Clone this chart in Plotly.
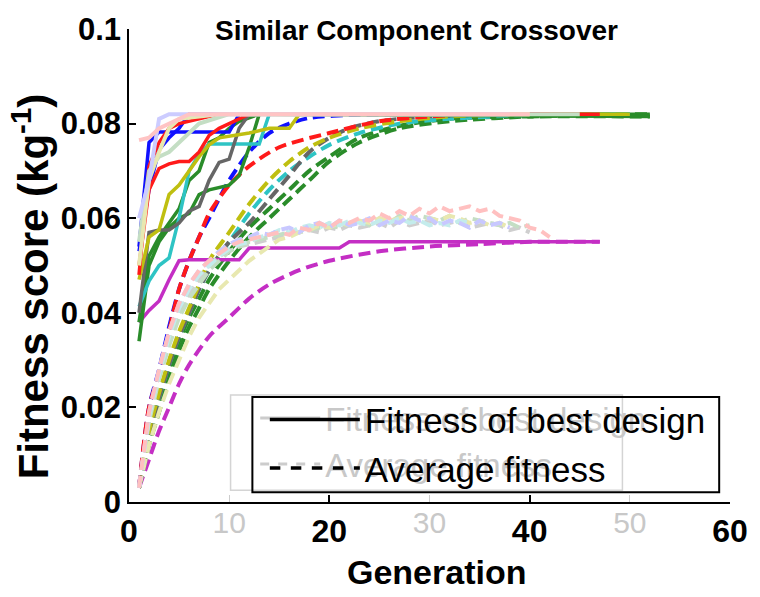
import plotly.graph_objects as go

# ---------------------------------------------------------------
# Best-so-far fitness (kg^-1) per run: generation -> fitness
# ---------------------------------------------------------------
best_blue_a_gen = [1, 2, 3, 10, 11, 41]
best_blue_a = [0.054, 0.076, 0.0782, 0.0782, 0.082, 0.082]
best_blue_b_gen = [1, 2, 3, 4, 5, 6, 40]
best_blue_b = [0.053, 0.066, 0.0745, 0.077, 0.079, 0.082, 0.082]
best_red_a_gen = [1, 2, 3, 4, 5, 6, 7, 8, 9, 10, 11, 12, 42]
best_red_a = [0.050, 0.066, 0.0705, 0.0715, 0.072, 0.072, 0.074, 0.0775, 0.079, 0.080, 0.081, 0.082, 0.082]
best_red_b_gen = [1, 2, 3, 4, 5, 6, 7, 8, 9, 47]
best_red_b = [0.048, 0.071, 0.076, 0.079, 0.080, 0.0805, 0.081, 0.0815, 0.082, 0.082]
best_gray_gen = [1, 2, 3, 4, 5, 6, 7, 8, 9, 10, 11, 12, 45]
best_gray = [0.040, 0.057, 0.0575, 0.0575, 0.059, 0.0615, 0.0625, 0.068, 0.0718, 0.0725, 0.079, 0.082, 0.082]
best_yellow_gen = [1, 2, 3, 4, 5, 6, 7, 8, 9, 12, 14, 16, 17, 50]
best_yellow = [0.047, 0.056, 0.0575, 0.065, 0.067, 0.070, 0.073, 0.0755, 0.077, 0.078, 0.079, 0.079, 0.082, 0.082]
best_cyan_gen = [1, 2, 3, 4, 5, 6, 7, 8, 13, 14, 50]
best_cyan = [0.0413, 0.0467, 0.050, 0.0516, 0.060, 0.070, 0.0735, 0.0757, 0.0757, 0.082, 0.082]
best_green_a_gen = [1, 2, 3, 4, 5, 6, 7, 8, 10, 11, 12, 13, 52]
best_green_a = [0.034, 0.050, 0.055, 0.058, 0.060, 0.061, 0.065, 0.066, 0.067, 0.069, 0.075, 0.082, 0.082]
best_green_b_gen = [1, 2, 3, 4, 5, 6, 7, 8, 9, 10, 11, 13, 52]
best_green_b = [0.038, 0.052, 0.056, 0.059, 0.062, 0.068, 0.070, 0.076, 0.077, 0.079, 0.0805, 0.082, 0.0815]
best_magenta_gen = [1, 2, 3, 4, 5, 6, 11, 12, 21, 22, 47]
best_magenta = [0.038, 0.0405, 0.0425, 0.047, 0.051, 0.0512, 0.0512, 0.0537, 0.0537, 0.055, 0.055]

# ---------------------------------------------------------------
# Population-average fitness (kg^-1) per run
# ---------------------------------------------------------------
avg_red_gen = [1, 2, 3, 4, 5, 6, 7, 8, 10, 12, 15, 20, 25, 30, 35, 42]
avg_red = [0.003, 0.020, 0.027, 0.036, 0.045, 0.051, 0.056, 0.061, 0.067, 0.071, 0.075, 0.078, 0.0805, 0.0815, 0.082, 0.082]
avg_blue_gen = [1, 2, 3, 4, 5, 6, 7, 8, 10, 12, 14, 16, 18, 22, 30, 41]
avg_blue = [0.003, 0.020, 0.028, 0.037, 0.045, 0.051, 0.056, 0.060, 0.068, 0.074, 0.078, 0.080, 0.0812, 0.0818, 0.082, 0.082]
avg_yellow_gen = [1, 2, 3, 4, 5, 6, 7, 8, 10, 12, 14, 16, 18, 20, 23, 27, 32, 40, 50]
avg_yellow = [0.003, 0.015, 0.023, 0.030, 0.036, 0.041, 0.046, 0.051, 0.057, 0.063, 0.068, 0.072, 0.075, 0.077, 0.079, 0.0805, 0.0815, 0.082, 0.082]
avg_cyan_gen = [1, 2, 3, 4, 5, 6, 7, 8, 10, 12, 14, 16, 18, 20, 23, 27, 32, 40, 50]
avg_cyan = [0.003, 0.014, 0.022, 0.029, 0.035, 0.040, 0.045, 0.049, 0.055, 0.061, 0.066, 0.070, 0.073, 0.0755, 0.078, 0.080, 0.081, 0.0818, 0.082]
avg_gray_gen = [1, 2, 3, 4, 5, 6, 7, 8, 10, 12, 14, 16, 18, 20, 22, 25, 30, 40, 45]
avg_gray = [0.003, 0.014, 0.022, 0.029, 0.035, 0.040, 0.045, 0.049, 0.055, 0.059, 0.064, 0.069, 0.074, 0.077, 0.079, 0.0805, 0.0815, 0.082, 0.082]
avg_green_a_gen = [1, 2, 3, 4, 5, 6, 7, 8, 10, 12, 14, 16, 18, 20, 23, 27, 32, 40, 52]
avg_green_a = [0.003, 0.012, 0.019, 0.026, 0.032, 0.037, 0.041, 0.045, 0.051, 0.056, 0.060, 0.064, 0.068, 0.072, 0.076, 0.079, 0.0805, 0.0815, 0.082]
avg_green_b_gen = [1, 2, 3, 4, 5, 6, 7, 8, 10, 12, 14, 16, 18, 20, 23, 27, 32, 40, 52]
avg_green_b = [0.003, 0.013, 0.021, 0.028, 0.034, 0.039, 0.043, 0.047, 0.053, 0.058, 0.062, 0.066, 0.070, 0.073, 0.077, 0.0795, 0.081, 0.0815, 0.0815]
avg_magenta_gen = [1, 2, 3, 4, 5, 6, 8, 10, 12, 14, 17, 20, 25, 30, 35, 40, 47]
avg_magenta = [0.003, 0.009, 0.015, 0.020, 0.025, 0.029, 0.035, 0.039, 0.043, 0.046, 0.049, 0.051, 0.053, 0.054, 0.0545, 0.055, 0.055]

# ---------------------------------------------------------------
# Faded comparison runs (average fitness, one value per generation)
# ---------------------------------------------------------------
faded_pink_avg = [0.003, 0.019, 0.028, 0.036, 0.042, 0.046, 0.049, 0.051, 0.0525, 0.054,
                  0.055, 0.0555, 0.056, 0.0565, 0.057, 0.0565, 0.058, 0.0575, 0.059, 0.058,
                  0.0595, 0.059, 0.060, 0.0595, 0.061, 0.060, 0.0615, 0.0605, 0.062, 0.061,
                  0.0625, 0.0615, 0.062, 0.0625, 0.0615, 0.062, 0.0605, 0.060, 0.0595, 0.058,
                  0.0575, 0.056]
faded_blue_avg = [0.003, 0.019, 0.028, 0.036, 0.042, 0.046, 0.049, 0.051, 0.053, 0.0545,
                  0.0555, 0.056, 0.057, 0.0565, 0.0575, 0.058, 0.057, 0.0585, 0.059, 0.058,
                  0.0595, 0.0585, 0.059, 0.060, 0.0585, 0.0595, 0.059, 0.0605, 0.0595, 0.060,
                  0.0585, 0.0595, 0.059, 0.058, 0.0595, 0.0585, 0.059, 0.058]
faded_green_avg = [0.003, 0.017, 0.026, 0.033, 0.039, 0.043, 0.046, 0.049, 0.051, 0.053,
                   0.054, 0.055, 0.0555, 0.056, 0.0565, 0.057, 0.057, 0.0575, 0.058, 0.0585,
                   0.058, 0.059, 0.0595, 0.0585, 0.060, 0.059, 0.0605, 0.0595, 0.0605, 0.060,
                   0.0595, 0.0605, 0.059, 0.060, 0.0595, 0.059, 0.0585, 0.059, 0.058, 0.0585]
faded_yellow_avg = [0.003, 0.012, 0.019, 0.025, 0.030, 0.035, 0.039, 0.042, 0.045, 0.047,
                    0.049, 0.051, 0.0525, 0.054, 0.0555, 0.056, 0.057, 0.0575, 0.0585, 0.058,
                    0.059, 0.0585, 0.0595, 0.059, 0.060, 0.0595, 0.060, 0.0605, 0.0595, 0.060,
                    0.0595, 0.0605, 0.060, 0.059, 0.0595, 0.0585, 0.059, 0.058]
faded_gray_avg = [0.003, 0.018, 0.027, 0.034, 0.040, 0.044, 0.047, 0.050, 0.052, 0.053,
                  0.054, 0.0545, 0.055, 0.0555, 0.056, 0.0565, 0.057, 0.0575, 0.057, 0.058,
                  0.0575, 0.0585, 0.058, 0.0585, 0.059, 0.058, 0.0595, 0.0585, 0.059, 0.0595,
                  0.0585, 0.059, 0.0595, 0.058, 0.0585, 0.059, 0.0585, 0.0575, 0.058, 0.057]
faded_cyan_avg = [0.003, 0.018, 0.027, 0.035, 0.041, 0.045, 0.048, 0.050, 0.052, 0.0535,
                  0.0545, 0.055, 0.056, 0.0565, 0.0575, 0.057, 0.058, 0.0585, 0.058, 0.059,
                  0.0585, 0.0595, 0.059, 0.0585, 0.0595, 0.059, 0.060, 0.059, 0.0595, 0.0585,
                  0.059, 0.0585, 0.0595, 0.059]

# Faded comparison runs (best fitness)
faded_pink_best_gen = [1, 2, 3, 4, 5, 6, 40]
faded_pink_best = [0.0765, 0.077, 0.079, 0.080, 0.081, 0.082, 0.082]
faded_lavender_best_gen = [1, 2, 3, 4, 38]
faded_lavender_best = [0.060, 0.068, 0.081, 0.082, 0.082]
faded_green_best_gen = [1, 2, 3, 4, 5, 6, 7, 10, 45]
faded_green_best = [0.055, 0.070, 0.073, 0.074, 0.076, 0.078, 0.080, 0.082, 0.082]
faded_yellow_best_gen = [1, 2, 3, 4, 5, 9, 40]
faded_yellow_best = [0.050, 0.068, 0.074, 0.079, 0.081, 0.082, 0.082]

x_ticks_main = [0, 20, 40, 60]
x_ticks_faded = [10, 30, 50]
y_ticks = [0, 0.02, 0.04, 0.06, 0.08, 0.1]
y_tick_text = ["0", "0.02", "0.04", "0.06", "0.08", "0.1"]

FONT = "Liberation Sans, Arial, sans-serif"
BLUE, RED, GRAY = "#1010ff", "#ff1a1a", "#666666"
YELLOW, CYAN, GREEN, MAGENTA = "#bfbf10", "#2ec4c4", "#2a8c2a", "#c42ec4"
DASH = "12px,6px"

fig = go.Figure()


def gens(values):
    return list(range(1, len(values) + 1))


# faded runs sit behind everything else, on their own overlaid x-axis
for vals, col in [(faded_gray_avg, "#cfcfcf"), (faded_green_avg, "#c4dec4"),
                  (faded_yellow_avg, "#e8e8b0"), (faded_cyan_avg, "#c4ecec"),
                  (faded_blue_avg, "#c8c8ff"), (faded_pink_avg, "#ffc0c0")]:
    fig.add_trace(go.Scatter(x=gens(vals), y=vals, mode="lines", xaxis="x2",
                             line=dict(color=col, width=4, dash=DASH),
                             showlegend=False, hoverinfo="skip"))
for gx, gy, col in [(faded_green_best_gen, faded_green_best, "#c4dec4"),
                    (faded_yellow_best_gen, faded_yellow_best, "#e8e8b0"),
                    (faded_lavender_best_gen, faded_lavender_best, "#ccccff"),
                    (faded_pink_best_gen, faded_pink_best, "#ffc4c4")]:
    fig.add_trace(go.Scatter(x=gx, y=gy, mode="lines", xaxis="x2",
                             line=dict(color=col, width=4),
                             showlegend=False, hoverinfo="skip"))

# average fitness, dashed
for gx, gy, col in [(avg_magenta_gen, avg_magenta, MAGENTA),
                    (avg_green_a_gen, avg_green_a, GREEN),
                    (avg_green_b_gen, avg_green_b, GREEN),
                    (avg_cyan_gen, avg_cyan, CYAN),
                    (avg_gray_gen, avg_gray, GRAY),
                    (avg_yellow_gen, avg_yellow, YELLOW),
                    (avg_blue_gen, avg_blue, BLUE),
                    (avg_red_gen, avg_red, RED)]:
    fig.add_trace(go.Scatter(x=gx, y=gy, mode="lines",
                             line=dict(color=col, width=4, dash=DASH,
                                       shape="spline", smoothing=0.8),
                             showlegend=False, hoverinfo="skip"))

# best design fitness, solid
for gx, gy, col in [(best_magenta_gen, best_magenta, MAGENTA),
                    (best_green_a_gen, best_green_a, GREEN),
                    (best_green_b_gen, best_green_b, GREEN),
                    (best_cyan_gen, best_cyan, CYAN),
                    (best_gray_gen, best_gray, GRAY),
                    (best_yellow_gen, best_yellow, YELLOW),
                    (best_blue_a_gen, best_blue_a, BLUE),
                    (best_blue_b_gen, best_blue_b, BLUE),
                    (best_red_a_gen, best_red_a, RED),
                    (best_red_b_gen, best_red_b, RED)]:
    fig.add_trace(go.Scatter(x=gx, y=gy, mode="lines",
                             line=dict(color=col, width=3.5),
                             showlegend=False, hoverinfo="skip"))

# legend entries: faded copy underneath, main legend on top
for name, dash in [("Fitness of best design", "solid"), ("Average fitness", "dash")]:
    fig.add_trace(go.Scatter(x=[None], y=[None], mode="lines", name=name,
                             line=dict(color="#cccccc", width=3, dash=dash),
                             legend="legend"))
for name, dash in [("Fitness of best design", "solid"), ("Average fitness", "dash")]:
    fig.add_trace(go.Scatter(x=[None], y=[None], mode="lines", name=name,
                             line=dict(color="black", width=3.5, dash=dash),
                             legend="legend2"))

fig.update_layout(
    width=760, height=597,
    margin=dict(l=129, r=21, t=20, b=95),
    paper_bgcolor="white", plot_bgcolor="white",
    font=dict(family=FONT, color="black"),
    title=dict(text="<b>Similar Component Crossover</b>", font=dict(size=28),
               x=0.548, xref="container", xanchor="center",
               y=1 - 30 / 597, yref="container", yanchor="middle"),
    xaxis=dict(range=[0, 60], tickvals=x_ticks_main, ticks="inside", ticklen=7,
               tickwidth=1.5, tickcolor="black", showline=True, linecolor="black",
               linewidth=1.5, showgrid=False, zeroline=False,
               tickfont=dict(size=32, weight="bold")),
    xaxis2=dict(range=[0, 60], overlaying="x", anchor="y", side="bottom",
                tickvals=x_ticks_faded, ticks="inside", ticklen=7, tickwidth=1,
                tickcolor="#cccccc", showline=False, showgrid=False, zeroline=False,
                tickfont=dict(size=30, color="#c8c8c8")),
    yaxis=dict(range=[0, 0.1], tickvals=y_ticks, ticktext=y_tick_text,
               ticks="inside", ticklen=7, tickwidth=1.5, tickcolor="black",
               showline=True, linecolor="black", linewidth=1.5, showgrid=False,
               zeroline=False, tickfont=dict(size=31, weight="bold")),
    legend=dict(x=0.210, y=0.2365, xanchor="left", yanchor="top",
                bgcolor="rgba(0,0,0,0)", borderwidth=0,
                font=dict(size=33, color="#c8c8c8"), itemwidth=60),
    legend2=dict(x=0.226, y=0.2365, xanchor="left", yanchor="top",
                 bgcolor="rgba(0,0,0,0)", borderwidth=0,
                 font=dict(size=35, color="black"), itemwidth=90),
    shapes=[
        dict(type="rect", xref="paper", yref="paper", x0=0.169, x1=0.821,
             y0=0.0249, y1=0.226, line=dict(color="#d4d4d4", width=1.5)),
        dict(type="rect", xref="paper", yref="paper", x0=0.2053, x1=0.982,
             y0=0.0207, y1=0.222, line=dict(color="black", width=2)),
    ],
    annotations=[
        # axis titles
        dict(text="<b>Generation</b>", xref="paper", yref="paper",
             x=0.5115, y=-0.147, xanchor="center", yanchor="middle",
             showarrow=False, font=dict(size=34)),
        dict(text="<b>Fitness score (kg<sup>-1</sup>)</b>", xref="paper", yref="paper",
             x=-0.163, y=0.456, xanchor="center", yanchor="middle", textangle=-90,
             showarrow=False, font=dict(size=42)),
    ],
)

fig.write_html("out.html")
